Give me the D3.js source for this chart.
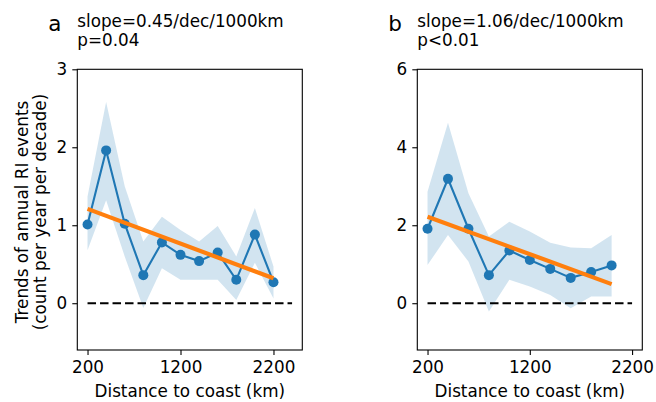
<!DOCTYPE html>
<html>
<head>
<meta charset="utf-8">
<script src="https://cdn.jsdelivr.net/npm/d3@7"></script>
<style>
  body { margin: 0; background: #fff; }
  svg { display: block; }
  text { font-family: "DejaVu Sans", sans-serif; fill: #000; }
</style>
</head>
<body>
<svg id="chart" width="656" height="402"></svg>
<script>
// ---------- data ----------
const distA = [200, 400, 600, 800, 1000, 1200, 1400, 1600, 1800, 2000, 2200];
const trendA = [1.01, 1.96, 1.02, 0.36, 0.78, 0.62, 0.54, 0.65, 0.30, 0.88, 0.27];
const upperA = [1.37, 2.58, 1.50, 0.79, 1.11, 0.94, 0.79, 0.99, 0.60, 1.22, 0.47];
const lowerA = [0.68, 1.32, 0.60, -0.06, 0.45, 0.30, 0.30, 0.30, 0.04, 0.52, 0.06];
const fitDistA = [200, 2200];
const fitA = [1.21, 0.32];
const zeroDistA = [200, 2400];

const distB = [200, 400, 600, 800, 1000, 1200, 1400, 1600, 1800, 2000];
const trendB = [1.91, 3.19, 1.91, 0.72, 1.35, 1.11, 0.88, 0.65, 0.80, 0.97];
const upperB = [2.86, 4.63, 2.82, 1.71, 2.09, 1.84, 1.55, 1.43, 1.41, 1.75];
const lowerB = [0.98, 1.75, 1.07, -0.21, 0.60, 0.43, 0.21, -0.13, 0.17, 0.17];
const fitDistB = [200, 2000];
const fitB = [2.22, 0.49];
const zeroDistB = [200, 2200];

const xTicks = [200, 1200, 2200];
const yTicksA = [0, 1, 2, 3];
const yTicksB = [0, 2, 4, 6];

const panelLetters = ["a", "b"];
const slopeTexts = ["slope=0.45/dec/1000km", "slope=1.06/dec/1000km"];
const pTexts = ["p=0.04", "p<0.01"];
const xLabel = "Distance to coast (km)";
const yLabelLines = ["Trends of annual RI events", "(count per year per decade)"];

// ---------- drawing ----------
const svg = d3.select("#chart");
const FS = 16.8;
const blue = "#1f77b4", orange = "#ff7f0e";

const panels = [
  { left: 77.3, right: 302.3, xDom: [90, 2510], yDom: [-0.6, 3], yTicks: yTicksA,
    dist: distA, trend: trendA, upper: upperA, lower: lowerA,
    fitD: fitDistA, fit: fitA, zeroD: zeroDistA },
  { left: 417.3, right: 642.3, xDom: [100, 2300], yDom: [-1.2, 6], yTicks: yTicksB,
    dist: distB, trend: trendB, upper: upperB, lower: lowerB,
    fitD: fitDistB, fit: fitB, zeroD: zeroDistB }
];
const plotTop = 69.3, plotBottom = 350;
const fmt = d3.format("d");

panels.forEach((p, i) => {
  const x = d3.scaleLinear().domain(p.xDom).range([p.left, p.right]);
  const y = d3.scaleLinear().domain(p.yDom).range([plotBottom, plotTop]);
  const g = svg.append("g");

  // band
  const area = d3.area()
    .x((d, k) => x(p.dist[k]))
    .y0((d, k) => y(p.lower[k]))
    .y1((d, k) => y(p.upper[k]));
  g.append("path").datum(p.dist).attr("d", area)
    .attr("fill", blue).attr("fill-opacity", 0.2);

  // trend line
  const line = d3.line().x((d, k) => x(p.dist[k])).y((d, k) => y(p.trend[k]));
  g.append("path").datum(p.dist).attr("d", line)
    .attr("fill", "none").attr("stroke", blue).attr("stroke-width", 2.1);
  g.selectAll("circle.pt").data(p.dist).enter().append("circle")
    .attr("cx", (d) => x(d)).attr("cy", (d, k) => y(p.trend[k]))
    .attr("r", 5).attr("fill", blue);

  // fit line
  const fitLine = d3.line().x((d, k) => x(p.fitD[k])).y((d, k) => y(p.fit[k]));
  g.append("path").datum(p.fitD).attr("d", fitLine)
    .attr("fill", "none").attr("stroke", orange).attr("stroke-width", 4.2);

  // zero line
  const zeroLine = d3.line().x((d) => x(d)).y(() => y(0));
  g.append("path").datum(p.zeroD).attr("d", zeroLine)
    .attr("fill", "none").attr("stroke", "#000").attr("stroke-width", 2.1)
    .attr("stroke-dasharray", "8.5,4");

  // axes
  const ax = g.append("g").attr("transform", `translate(0,${plotBottom})`)
    .call(d3.axisBottom(x).tickValues(xTicks).tickFormat(fmt).tickSize(5).tickPadding(6).tickSizeOuter(0));
  const ay = g.append("g").attr("transform", `translate(${p.left},0)`)
    .call(d3.axisLeft(y).tickValues(p.yTicks).tickFormat(fmt).tickSize(5).tickPadding(5).tickSizeOuter(0));
  [ax, ay].forEach(a => {
    a.select(".domain").remove();
    a.selectAll(".tick line").attr("stroke", "#000").attr("stroke-width", 1.1);
    a.selectAll(".tick text").style("font-size", FS + "px").style("font-family", "DejaVu Sans");
  });

  // frame
  g.append("rect").attr("x", p.left).attr("y", plotTop)
    .attr("width", p.right - p.left).attr("height", plotBottom - plotTop)
    .attr("fill", "none").attr("stroke", "#000").attr("stroke-width", 1.1);

  // x label
  g.append("text").attr("x", (p.left + p.right) / 2).attr("y", 397)
    .attr("text-anchor", "middle").style("font-size", FS + "px").text(xLabel);

  // panel letter & stats
  g.append("text").attr("x", p.left - 29).attr("y", 31)
    .style("font-size", "21.5px").text(panelLetters[i]);
  g.append("text").attr("x", p.left).attr("y", 27)
    .style("font-size", FS + "px").text(slopeTexts[i]);
  g.append("text").attr("x", p.left).attr("y", 45.5)
    .style("font-size", FS + "px").text(pTexts[i]);
});

// y label (panel a only)
const ylab = svg.append("text")
  .attr("transform", "translate(28,212) rotate(-90)")
  .attr("text-anchor", "middle").style("font-size", FS + "px");
ylab.append("tspan").attr("x", 0).attr("dy", 0).text(yLabelLines[0]);
ylab.append("tspan").attr("x", 0).attr("dy", 18).text(yLabelLines[1]);
</script>
</body>
</html>
